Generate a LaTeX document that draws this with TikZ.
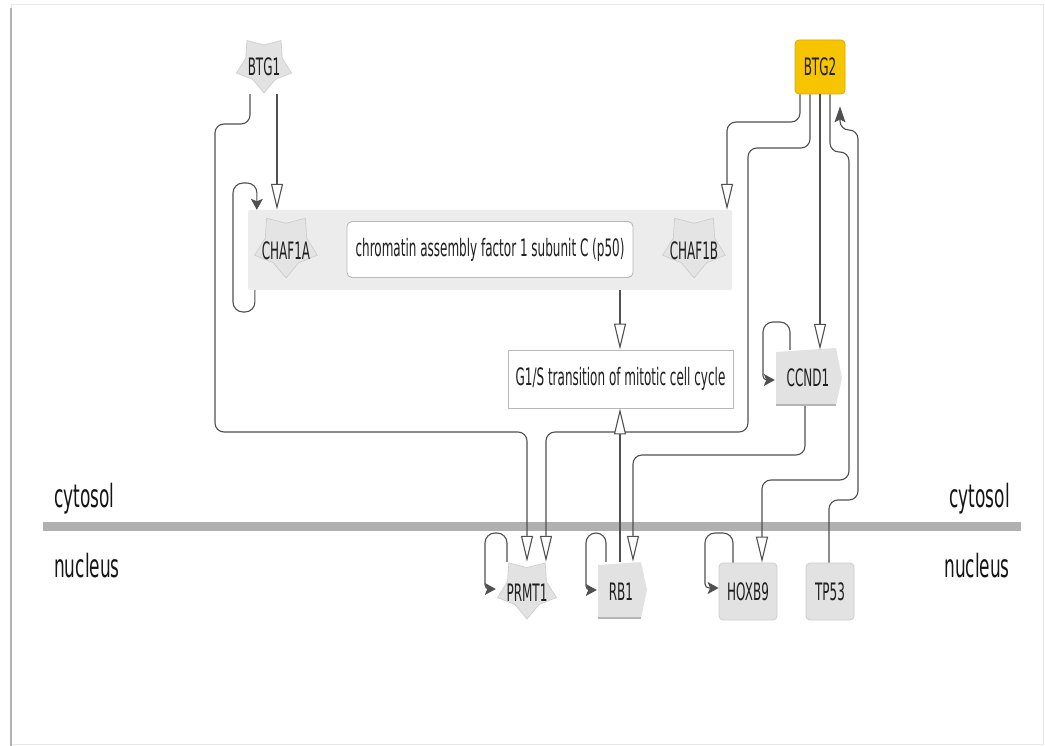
\documentclass[tikz,border=0pt]{standalone}
\usepackage{fontspec}
\newfontfamily\lblfont[FakeStretch=0.5]{DejaVu Sans}
\newfontfamily\cmpfont[FakeStretch=0.53]{DejaVu Sans}
\usetikzlibrary{arrows.meta,calc}
\definecolor{nodefill}{HTML}{E2E2E2}
\definecolor{nodeline}{HTML}{CCCCCC}
\definecolor{nodeshade}{HTML}{B5B5B5}
\definecolor{groupfill}{HTML}{ECECEC}
\definecolor{boxline}{HTML}{B8B8B8}
\definecolor{btgyellow}{HTML}{F6C500}
\definecolor{btgline}{HTML}{D8AA00}
\definecolor{edgec}{HTML}{505050}
\definecolor{membc}{HTML}{B0B0B0}
\definecolor{ghostfill}{HTML}{E4E4E4}
\definecolor{ghostline}{HTML}{CACACA}
\newcommand\starpoly[4]{\path[#4] ($(#1)+(90:#2)$) \foreach \k in {1,...,9}{ -- ($(#1)+({90+36*\k}:{#2*(1-(1-#3)*mod(\k,2))})$) } -- cycle;}
\begin{document}
\begin{tikzpicture}[x=1pt,y=-1pt,
  lbl/.style={font=\lblfont\fontsize{24}{26}\selectfont, text=black!88, inner sep=0pt},
  cmp/.style={font=\cmpfont\fontsize{32}{34}\selectfont, text=black!92, inner sep=0pt},
  gene/.style={lbl, fill=nodefill, draw=nodeline, line width=0.8pt, rounded corners=4pt},
  inh/.style={draw=edgec, line width=1.1pt, rounded corners=9pt, -{Triangle[length=26pt, width=12pt, line width=1.1pt, fill=white]}},
  act/.style={draw=edgec, line width=1.1pt, rounded corners=10pt, -{Stealth[length=11pt, width=12pt, inset=2.5pt]}},
  actlong/.style={draw=edgec, line width=1.1pt, rounded corners=9pt, -{Stealth[length=16pt, width=11pt, inset=3pt]}, shorten >=12pt}]
\useasboundingbox (0,0) rectangle (1045,746);
\fill[white] (0,0) rectangle (1045,746);
% frame
\draw[gray!18, line width=1pt] (11,5) rectangle (1043,744);
\draw[gray!60, line width=2.5pt] (11,8) -- (11,746);

% membrane and compartment labels
\draw[membc, line width=9pt] (43,526.5) -- (1021,526.5);
\node[cmp, anchor=base west] (cytL) at (54,507) {cytosol};
\node[cmp, anchor=base west] (nucL) at (54,577) {nucleus};
\node[cmp, anchor=base east] (cytR) at (1010,507) {cytosol};
\node[cmp, anchor=base east] (nucR) at (1010,577) {nucleus};

% group
\node[fill=groupfill, minimum width=484pt, minimum height=80pt, inner sep=0pt, rounded corners=2pt] (group) at (490,250) {};
\coordinate (CHAF1Ac) at (286,245);
\starpoly{CHAF1Ac}{33}{0.66}{fill=ghostfill, draw=ghostline, line width=0.6pt}
\node[lbl] (CHAF1A) at (286,251) {CHAF1A};
\coordinate (CHAF1Bc) at (694,245);
\starpoly{CHAF1Bc}{33}{0.66}{fill=ghostfill, draw=ghostline, line width=0.6pt}
\node[lbl] (CHAF1B) at (694,251) {CHAF1B};
\node[lbl, fill=white, draw=boxline, line width=0.9pt, rounded corners=5pt, minimum width=286pt, minimum height=56pt] (chrom) at (490,249.5) {chromatin assembly factor 1 subunit C (p50)};

% BTG1
\coordinate (BTG1c) at (264,64);
\starpoly{BTG1c}{29}{0.66}{fill=nodefill, draw=nodeline, line width=0.6pt}
\node[lbl, minimum width=54pt, minimum height=54pt] (BTG1) at (264,67) {BTG1};

% BTG2
\node[lbl, fill=btgyellow, draw=btgline, line width=0.8pt, rounded corners=4pt, minimum width=50pt, minimum height=54pt] (BTG2) at (820,67) {BTG2};

% G1/S
\node[lbl, fill=white, draw=boxline, line width=0.9pt, minimum width=225pt, minimum height=58pt] (G1S) at (620.5,379) {G1/S transition of mitotic cell cycle};

% CCND1
\fill[nodefill] (776,352) -- (836,348) -- (842,378) -- (836,405) -- (776,405) -- cycle;
\draw[nodeshade, line width=1.2pt] (776,405) -- (836,405);
\node[lbl, minimum width=66pt, minimum height=56pt] (CCND1) at (808,378) {CCND1};

% PRMT1
\coordinate (PRMT1c) at (527,588);
\starpoly{PRMT1c}{31}{0.66}{fill=nodefill, draw=nodeline, line width=0.6pt}
\node[lbl, minimum width=62pt, minimum height=62pt] (PRMT1) at (527,593) {PRMT1};

% RB1
\fill[nodefill] (598,565) -- (641,562) -- (647,590) -- (641,618) -- (598,618) -- cycle;
\draw[nodeshade, line width=1.2pt] (598,618) -- (641,618);
\node[lbl, minimum width=48pt, minimum height=60pt] (RB1) at (621,592) {RB1};

% HOXB9, TP53
\node[gene, minimum width=58pt, minimum height=57pt] (HOXB9) at (748,591.5) {HOXB9};
\node[gene, minimum width=48pt, minimum height=57pt] (TP53) at (830,591.5) {TP53};

% connectors
\draw[inh] ([xshift=13pt]BTG1.south) -- ([xshift=-213pt]group.north);
\draw[inh] ([xshift=-14pt]BTG1.south) -- (250,124) -- (215,124) -- (215,432) -- (527,432) -- (PRMT1.north);
\draw[inh] ([xshift=-20pt]BTG2.south) -- (800,122) -- (727,122) -- ([xshift=237pt]group.north);
\draw[inh] ([xshift=-10pt]BTG2.south) -- (810,148) -- (748,148) -- (748,432) -- (546,432) -- ([xshift=19pt]PRMT1.north);
\draw[inh] (BTG2.south) -- ([xshift=12pt]CCND1.north);
\draw[inh] ([xshift=10pt]BTG2.south) -- (830,152) -- (849,152) -- (849,480) -- (762,480) -- ([xshift=14pt]HOXB9.north);
\draw[actlong] ([xshift=-1pt]TP53.north) -- (829,500) -- (858,500) -- (858,130) -- (840,130) -- ([xshift=20pt]BTG2.south);
\draw[inh] ([xshift=-3pt]CCND1.south) -- (805,455) -- (633,455) -- ([xshift=12pt]RB1.north);
\draw[inh] ([xshift=-1pt]RB1.north) -- ([xshift=-0.5pt]G1S.south);
\draw[inh] ([xshift=130pt]group.south) -- ([xshift=-0.5pt]G1S.north);

% self loops
\draw[act] ([xshift=-18pt]CCND1.north) -- (790,322) -- (763,322) [rounded corners=4pt] -- (763,380) -- ([yshift=-2pt]CCND1.west);
\draw[act] ([xshift=-20pt]PRMT1.north) -- (507,533) -- (485,533) [rounded corners=4pt] -- (485,589) -- ([yshift=4pt]PRMT1.west);
\draw[act] ([xshift=-15pt]RB1.north) -- (606,533) -- (586,533) [rounded corners=4pt] -- (586,590) -- ([yshift=2pt]RB1.west);
\draw[act] ([xshift=-15pt]HOXB9.north) -- (733,533) -- (705,533) [rounded corners=4pt] -- (705,588) -- ([yshift=3.5pt]HOXB9.west);
\draw[act] ([xshift=7pt]group.south west) -- (255,312) -- (233,312) -- (233,183) -- (257,183) -- ([xshift=9pt]group.north west);
\end{tikzpicture}
\end{document}
